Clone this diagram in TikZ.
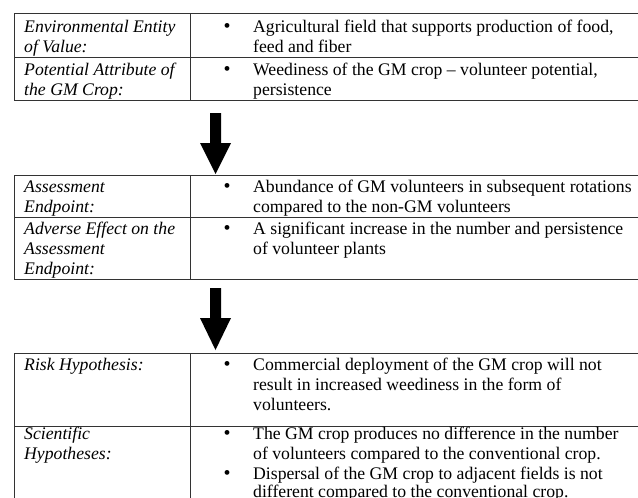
\documentclass[tikz,border=0pt]{standalone}
\usepackage{fontspec}
\setmainfont{Liberation Serif}
\begin{document}
\begin{tikzpicture}[x=1pt,y=-1pt,
  txt/.style={anchor=base west,inner sep=0pt,font=\fontsize{17.7}{20}\selectfont},
  lbl/.style={txt,font=\fontsize{17.7}{20}\selectfont\itshape},
  bul/.style={anchor=base,inner sep=0pt,font=\fontsize{20}{20}\selectfont},
  rule/.style={draw=black!80,line width=1pt},
  blockarrow/.style={fill=black,draw=none}]
\useasboundingbox (0,0) rectangle (638,498);
% ---------- table 1 ----------
\draw[rule] (638,13.5) -- (14.5,13.5) -- (14.5,100) -- (638,100);
\draw[rule] (14.5,57.5) -- (638,57.5);
\draw[rule] (190,13.5) -- (190,100);
\node[lbl] (e1) at (24,32) {Environmental Entity};
\node[lbl] (e2) at (24,52) {of Value:};
\node[lbl] (p1) at (24,75) {Potential Attribute of};
\node[lbl] (p2) at (24,95) {the GM Crop:};
\node[bul] (b1) at (227,32) {\textbullet};
\node[txt] (a1) at (253,32) {Agricultural field that supports production of food,};
\node[txt] (a2) at (253,52) {feed and fiber};
\node[bul] (b2) at (227,75) {\textbullet};
\node[txt] (w1) at (253,75) {Weediness of the GM crop – volunteer potential,};
\node[txt] (w2) at (253,95) {persistence};
% ---------- arrow 1 ----------
\fill[blockarrow] (210,113) -- (221,113) -- (221,143) -- (231,143) -- (215.5,174) -- (200,143) -- (210,143) -- cycle;
% ---------- table 2 ----------
\draw[rule] (638,175) -- (14.5,175) -- (14.5,279) -- (638,279);
\draw[rule] (14.5,217) -- (638,217);
\draw[rule] (190,175) -- (190,279);
\node[lbl] (s1) at (24,192) {Assessment};
\node[lbl] (s2) at (24,212) {Endpoint:};
\node[lbl] (d1) at (24,234) {Adverse Effect on the};
\node[lbl] (d2) at (24,254) {Assessment};
\node[lbl] (d3) at (24,274) {Endpoint:};
\node[bul] (b3) at (227,192) {\textbullet};
\node[txt] (ab1) at (253,192) {Abundance of GM volunteers in subsequent rotations};
\node[txt] (ab2) at (253,212) {compared to the non-GM volunteers};
\node[bul] (b4) at (227,234) {\textbullet};
\node[txt] (si1) at (253,234) {A significant increase in the number and persistence};
\node[txt] (si2) at (253,254) {of volunteer plants};
% ---------- arrow 2 ----------
\fill[blockarrow] (210,288) -- (221,288) -- (221,318) -- (231,318) -- (215.5,350) -- (200,318) -- (210,318) -- cycle;
% ---------- table 3 ----------
\draw[rule] (638,353) -- (14.5,353) -- (14.5,500);
\draw[rule] (14.5,426) -- (638,426);
\draw[rule] (190,353) -- (190,500);
\node[lbl] (r1) at (24,370) {Risk Hypothesis:};
\node[lbl] (h1) at (24,439) {Scientific};
\node[lbl] (h2) at (24,459) {Hypotheses:};
\node[bul] (b5) at (227,370) {\textbullet};
\node[txt] (c1) at (253,370) {Commercial deployment of the GM crop will not};
\node[txt] (c2) at (253,390) {result in increased weediness in the form of};
\node[txt] (c3) at (253,410) {volunteers.};
\node[bul] (b6) at (227,439) {\textbullet};
\node[txt] (g1) at (253,439) {The GM crop produces no difference in the number};
\node[txt] (g2) at (253,459) {of volunteers compared to the conventional crop.};
\node[bul] (b7) at (227,479) {\textbullet};
\node[txt] (g3) at (253,479) {Dispersal of the GM crop to adjacent fields is not};
\node[txt] (g4) at (253,497) {different compared to the conventional crop.};
\end{tikzpicture}
\end{document}
